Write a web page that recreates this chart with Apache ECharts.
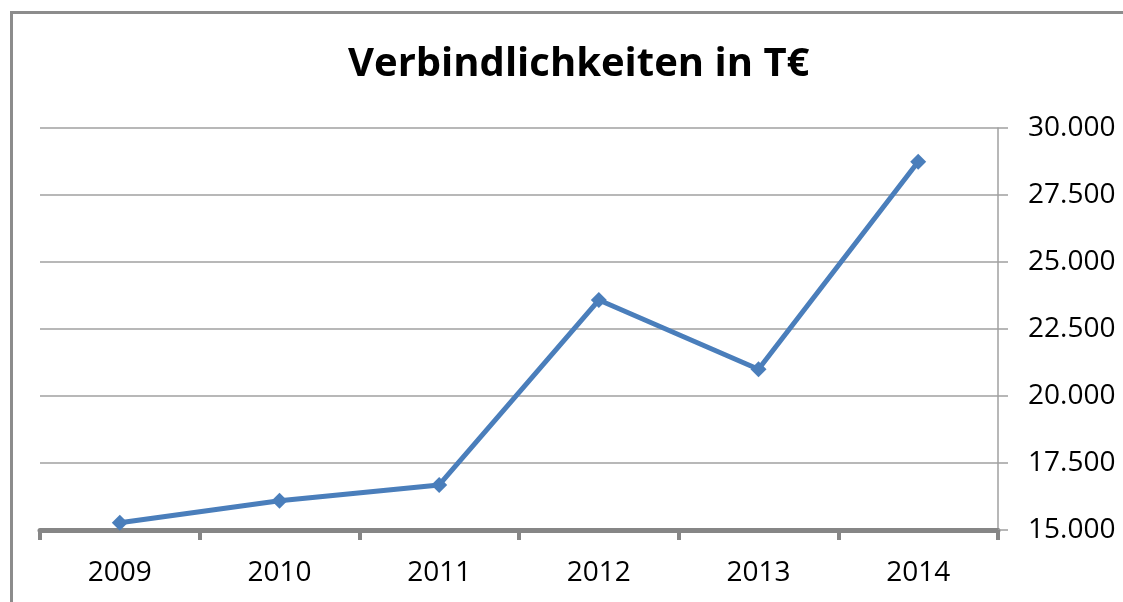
<!DOCTYPE html>
<html>
<head>
<meta charset="UTF-8">
<title>Verbindlichkeiten in T€</title>
<style>
  html, body { margin: 0; padding: 0; background: #fff; }
  #main { width: 1123px; height: 602px; }
  #frame { position: absolute; left: 10px; top: 11px; width: 1113px; height: 591px;
           border-top: 3px solid #8c8c8c; border-left: 3px solid #8c8c8c; pointer-events: none; }
</style>
</head>
<body>
<div id="main"></div>
<div id="frame"></div>
<script src="https://cdn.jsdelivr.net/npm/echarts@6/dist/echarts.min.js"></script>
<script type="text/javascript">
  // Daten
  var years = ['2009', '2010', '2011', '2012', '2013', '2014'];
  var values = [15270, 16090, 16680, 23580, 21000, 28740];
  var yMin = 15000, yMax = 30000, yStep = 2500;

  var chart = echarts.init(document.getElementById('main'));

  // 15000 -> "15.000"
  function fmt(v) {
    return String(Math.round(v)).replace(/\B(?=(\d{3})+(?!\d))/g, '.');
  }

  var option = {
    backgroundColor: '#ffffff',
    animation: false,
    title: {
      text: 'Verbindlichkeiten in T€',
      left: 343,
      top: 40,
      textStyle: { fontFamily: 'Open Sans', fontWeight: 'bold', fontSize: 40, color: '#000' }
    },
    grid: { left: 40, right: 125, top: 128, bottom: 72 },
    xAxis: {
      type: 'category',
      data: years,
      boundaryGap: true,
      axisLine: { lineStyle: { color: '#868686', width: 5 } },
      axisTick: { show: true, length: 10, lineStyle: { color: '#868686', width: 4 } },
      axisLabel: { fontFamily: 'Open Sans', fontSize: 28, color: '#000', margin: 29 },
      splitLine: { show: false }
    },
    yAxis: {
      type: 'value',
      position: 'right',
      min: yMin,
      max: yMax,
      interval: yStep,
      axisLine: { show: true, lineStyle: { color: '#a0a0a0', width: 1.5 } },
      axisTick: { show: true, length: 10, lineStyle: { color: '#a0a0a0', width: 1.5 } },
      axisLabel: { fontFamily: 'Open Sans', fontSize: 28, color: '#000', margin: 30, formatter: fmt },
      splitLine: { lineStyle: { color: '#a0a0a0', width: 1.5 } }
    },
    series: [{
      type: 'line',
      data: values,
      symbol: 'diamond',
      symbolSize: 16,
      lineStyle: { color: '#4a7ebb', width: 5 },
      itemStyle: { color: '#4a7ebb' }
    }]
  };

  chart.setOption(option);
</script>
</body>
</html>
